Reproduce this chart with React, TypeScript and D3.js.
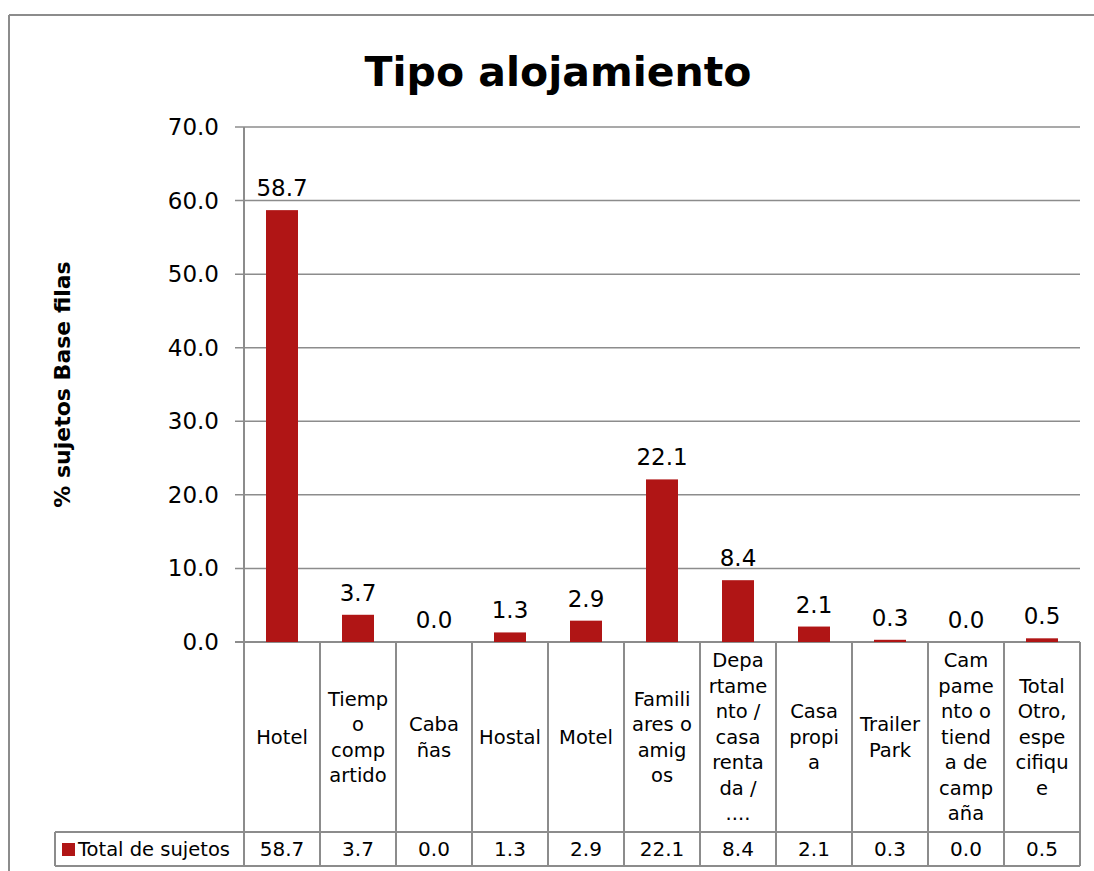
import * as d3 from 'd3'

const categories = [
  ['Hotel'],
  ['Tiemp', 'o', 'comp', 'artido'],
  ['Caba', 'ñas'],
  ['Hostal'],
  ['Motel'],
  ['Famili', 'ares o', 'amig', 'os'],
  ['Depa', 'rtame', 'nto /', 'casa', 'renta', 'da /', '....'],
  ['Casa', 'propi', 'a'],
  ['Trailer', 'Park'],
  ['Cam', 'pame', 'nto o', 'tiend', 'a de', 'camp', 'aña'],
  ['Total', 'Otro,', 'espe', 'cifiqu', 'e'],
]
const values = [58.7, 3.7, 0.0, 1.3, 2.9, 22.1, 8.4, 2.1, 0.3, 0.0, 0.5]
const yTicks = [0, 10, 20, 30, 40, 50, 60, 70]
const seriesName = 'Total de sujetos'
const title = 'Tipo alojamiento'
const yLabel = '% sujetos Base filas'

const W = 1094
const H = 871
const left = 244
const right = 1080
const top = 127
const bottom = 642
const catRowBottom = 832
const valRowBottom = 866
const legendLeft = 55

const font = "'DejaVu Sans', sans-serif"
const barColor = '#b01515'
const lineColor = '#8c8c8c'

export default function App() {
  const idx = categories.map((_, i) => i)
  const x = d3.scaleBand<number>().domain(idx).range([left, right]).paddingInner(0).paddingOuter(0)
  const y = d3.scaleLinear().domain([0, 70]).range([bottom, top])
  const barW = 32
  const fmt = d3.format('.1f')
  const lineH = 25.5
  const catMid = (bottom + catRowBottom) / 2

  return (
    <svg width={W} height={H} style={{ position: 'absolute', left: 0, top: 0, background: '#fff' }}>
      <rect x={0} y={0} width={W} height={H} fill="#fff" />
      {/* outer frame */}
      <line x1={9} y1={15} x2={W} y2={15} stroke={lineColor} strokeWidth={2} />
      <line x1={9} y1={15} x2={9} y2={H} stroke={lineColor} strokeWidth={2} />

      <text x={558} y={86} textAnchor="middle" fontFamily={font} fontWeight="bold" fontSize={41} fill="#000">
        {title}
      </text>

      {/* gridlines and y ticks */}
      {yTicks.map(t => (
        <g key={t}>
          <line x1={left - 9} x2={right} y1={y(t)} y2={y(t)} stroke={lineColor} strokeWidth={t === 0 ? 2 : 1.5} />
          <text x={219} y={y(t)} dy="0.35em" textAnchor="end" fontFamily={font} fontSize={23} fill="#000">
            {fmt(t)}
          </text>
        </g>
      ))}

      <text
        transform={`translate(62,${(top + bottom) / 2}) rotate(-90)`}
        textAnchor="middle"
        dy="0.35em"
        fontFamily={font}
        fontWeight="bold"
        fontSize={22}
        fill="#000"
      >
        {yLabel}
      </text>

      {/* bars */}
      {values.map((v, i) => {
        const cx = x(i)! + x.bandwidth() / 2
        return (
          <g key={i}>
            <rect x={cx - barW / 2} y={y(v)} width={barW} height={Math.max(0, bottom - y(v))} fill={barColor} />
            <text x={cx} y={y(v) - 14} textAnchor="middle" fontFamily={font} fontSize={23} fill="#000">
              {fmt(v)}
            </text>
          </g>
        )
      })}

      {/* data table */}
      <line x1={left} x2={left} y1={top} y2={valRowBottom} stroke={lineColor} strokeWidth={2} />
      {idx.map(i => (
        <line key={i} x1={x(i)! + x.bandwidth()} x2={x(i)! + x.bandwidth()} y1={bottom} y2={valRowBottom} stroke={lineColor} strokeWidth={2} />
      ))}
      <line x1={legendLeft} x2={right} y1={catRowBottom} y2={catRowBottom} stroke={lineColor} strokeWidth={2} />
      <line x1={legendLeft} x2={right} y1={valRowBottom} y2={valRowBottom} stroke={lineColor} strokeWidth={2} />
      <line x1={legendLeft} x2={legendLeft} y1={catRowBottom} y2={valRowBottom} stroke={lineColor} strokeWidth={2} />

      {categories.map((lines, i) => {
        const cx = x(i)! + x.bandwidth() / 2
        const y0 = catMid - ((lines.length - 1) * lineH) / 2
        return (
          <text key={i} textAnchor="middle" fontFamily={font} fontSize={19.5} fill="#000">
            {lines.map((l, j) => (
              <tspan key={j} x={cx} y={y0 + j * lineH} dy="0.35em">
                {l}
              </tspan>
            ))}
          </text>
        )
      })}

      {values.map((v, i) => (
        <text key={i} x={x(i)! + x.bandwidth() / 2} y={(catRowBottom + valRowBottom) / 2} dy="0.35em" textAnchor="middle" fontFamily={font} fontSize={20} fill="#000">
          {fmt(v)}
        </text>
      ))}

      {/* legend key */}
      <rect x={62} y={843} width={13} height={13} fill={barColor} />
      <text x={78} y={(catRowBottom + valRowBottom) / 2} dy="0.35em" fontFamily={font} fontSize={19.5} fill="#000">
        {seriesName}
      </text>
    </svg>
  )
}
